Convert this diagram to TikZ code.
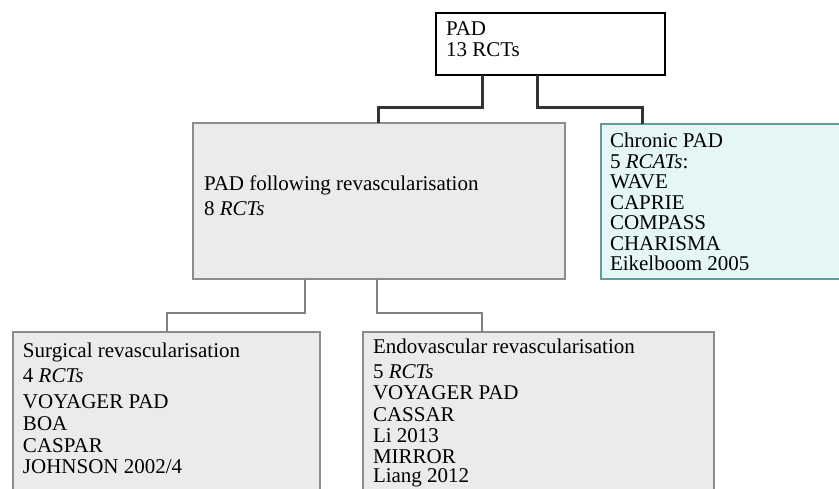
\documentclass[tikz,border=0pt]{standalone}
\usepackage{fontspec}
\setmainfont{Liberation Serif}
\definecolor{boxgray}{HTML}{EBEBEB}
\definecolor{edgegray}{HTML}{8C8C8C}
\definecolor{cyanfill}{HTML}{E4F6F6}
\definecolor{tealedge}{HTML}{5F9E97}
\definecolor{darkline}{HTML}{333333}
\definecolor{thinline}{HTML}{808080}
\tikzset{
  boxbase/.style={rectangle, anchor=north west, inner sep=0pt, outer sep=0pt},
  whitebox/.style={boxbase, draw=black, fill=white, line width=1.3pt},
  graybox/.style={boxbase, draw=edgegray, fill=boxgray, line width=1.3pt},
  cyanbox/.style={boxbase, draw=tealedge, fill=cyanfill, line width=1.5pt},
  txt/.style={anchor=north west, inner sep=0pt, outer sep=0pt, align=left,
    font=\fontsize{21}{21}\selectfont},
  thickconn/.style={draw=darkline, line width=3pt, line join=miter},
  thinconn/.style={draw=thinline, line width=1.3pt, line join=miter}
}
\begin{document}
\begin{tikzpicture}[x=1pt,y=-1pt]
\useasboundingbox (0,0) rectangle (839,488);
\clip (0,0) rectangle (839,488);
% boxes
\node[whitebox, minimum width=229pt, minimum height=62pt] (pad) at (436,13) {};
\node[graybox, minimum width=372pt, minimum height=156pt] (rev) at (193,123) {};
\node[cyanbox, minimum width=260pt, minimum height=155pt] (chr) at (601,124) {};
\node[graybox, minimum width=307pt, minimum height=175pt] (surg) at (13,332) {};
\node[graybox, minimum width=351pt, minimum height=175pt] (endo) at (363,332) {};
% connectors
\draw[thickconn] ([xshift=46pt]pad.south west) -- ++(0,32) -| ([xshift=185pt]rev.north west);
\draw[thickconn] ([xshift=101pt]pad.south west) -- ++(0,32) -| ([xshift=41pt]chr.north west);
\draw[thinconn] ([xshift=112pt]rev.south west) -- ++(0,34) -| ([xshift=154pt]surg.north west);
\draw[thinconn] ([xshift=184pt]rev.south west) -- ++(0,34) -| ([xshift=119pt]endo.north west);
% texts
\node[txt] (padtext) at (446,22) {PAD\\13 RCTs};
\node[txt] (revtext) at (204,176) {PAD following revascularisation\\[4pt]8 \textit{RCTs}};
\node[txt, font=\fontsize{21}{20.5}\selectfont] (chrtext) at (610,133) {Chronic PAD\\5 \textit{RCATs}:\\WAVE\\CAPRIE\\COMPASS\\CHARISMA\\Eikelboom 2005};
\node[txt] (surgtext) at (23,343) {Surgical revascularisation\\[4pt]4 \textit{RCTs}\\[5pt]VOYAGER PAD\\[1pt]BOA\\[1pt]CASPAR\\JOHNSON 2002/4};
\node[txt] (endotext) at (373,339) {Endovascular revascularisation\\[4pt]5 \textit{RCTs}\\VOYAGER PAD\\[1pt]CASSAR\\Li 2013\\MIRROR\\[-2pt]Liang 2012};
\end{tikzpicture}
\end{document}
